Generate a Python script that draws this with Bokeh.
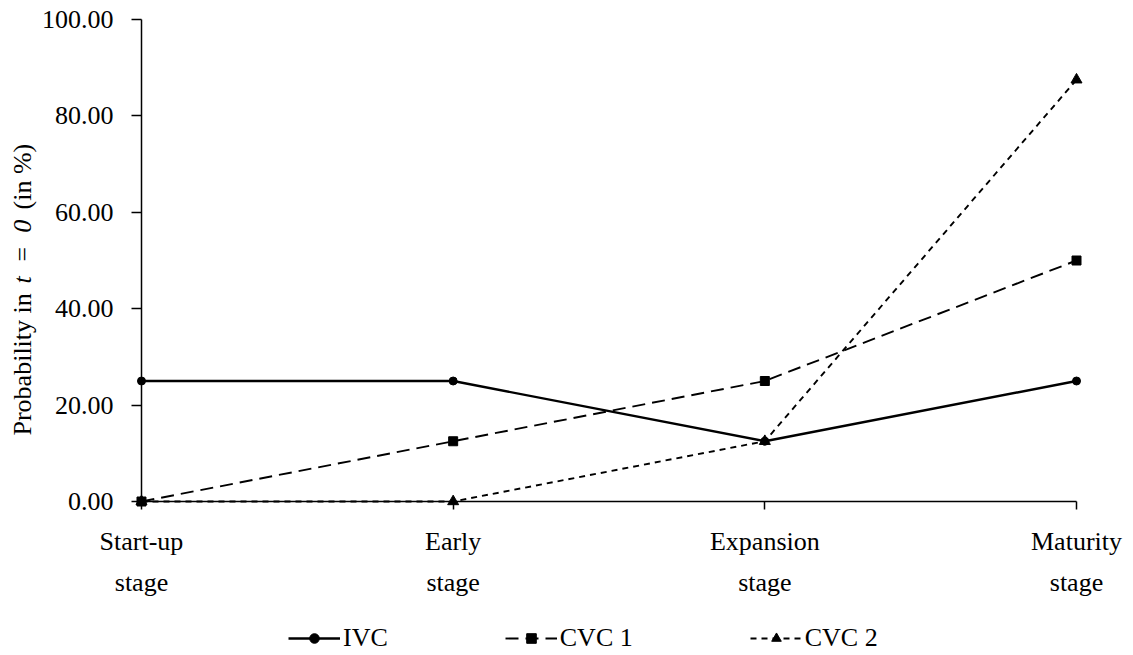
import math
from bokeh.plotting import figure
from bokeh.models import FixedTicker, PrintfTickFormatter, Legend, LegendItem, Range1d, LinearAxis, Label
from bokeh.embed import file_html
from bokeh.resources import INLINE

categories = ["Start-up\nstage", "Early\nstage", "Expansion\nstage", "Maturity\nstage"]
ivc = [25.0, 25.0, 12.5, 25.0]
cvc1 = [0.0, 12.5, 25.0, 50.0]
cvc2 = [0.0, 0.0, 12.5, 87.5]
y_ticks = [0, 20, 40, 60, 80, 100]
y_label_parts = [("Probability in", "normal"), ("t\u2002=\u20020", "italic"), ("(in %)", "normal")]

xs = list(range(len(categories)))
FONT = "Liberation Serif"
FS = "26px"
W, H = 1125, 655

p = figure(width=W, height=H, output_backend="svg", toolbar_location=None,
           x_axis_location=None, y_axis_location=None,
           x_range=Range1d(-0.4524, 3.1572), y_range=Range1d(-31.95, 103.942),
           min_border=0)
p.outline_line_color = None
p.xgrid.visible = False
p.ygrid.visible = False

r1l = p.line(xs, ivc, line_color="black", line_width=2.4)
r1m = p.scatter(xs, ivc, marker="circle", size=8, color="black")
r2l = p.line(xs, cvc1, line_color="black", line_width=1.9, line_dash="13 7")
r2m = p.scatter(xs, cvc1, marker="square", size=9, color="black")
r3l = p.line(xs, cvc2, line_color="black", line_width=1.9, line_dash="6 5")
r3m = p.scatter(xs, cvc2, marker="triangle", size=11, color="black")

# axes fixed at the data origin
fx = LinearAxis(ticker=FixedTicker(ticks=xs), fixed_location=0, bounds=(0, 3))
fy = LinearAxis(ticker=FixedTicker(ticks=y_ticks), fixed_location=0, bounds=(0, 100))
for ax in (fx, fy):
    ax.axis_line_color = "black"
    ax.axis_line_width = 1.5
    ax.major_tick_line_color = "black"
    ax.major_tick_line_width = 1.5
    ax.minor_tick_line_color = None
    ax.major_tick_in = 0
    ax.major_label_text_font = FONT
    ax.major_label_text_font_size = FS
    ax.major_label_text_color = "black"
fx.major_tick_out = 8
fx.major_label_overrides = {i: c for i, c in enumerate(categories)}
fx.major_label_standoff = 17
fx.major_label_text_line_height = 1.42
fy.major_tick_out = 10
fy.formatter = PrintfTickFormatter(format="%.2f")
fy.major_label_standoff = 18
p.add_layout(fx, "below")
p.add_layout(fy, "left")

# y-axis title with italic "t = 0"
label_starts = [220, 372, 446]
for (txt, style), y0 in zip(y_label_parts, label_starts):
    p.add_layout(Label(x=22, y=y0, x_units="screen", y_units="screen", text=txt,
                       angle=math.pi / 2, text_align="left", text_baseline="middle",
                       text_font=FONT, text_font_size=FS, text_font_style=style,
                       text_color="black"))

legend = Legend(items=[
    LegendItem(label="IVC", renderers=[r1l, r1m]),
    LegendItem(label="CVC 1", renderers=[r2l, r2m]),
    LegendItem(label="CVC 2", renderers=[r3l, r3m]),
], orientation="horizontal", location=(288, 2))
legend.glyph_width = 52
legend.glyph_height = 24
legend.label_height = 24
legend.label_standoff = 3
legend.spacing = 117
legend.padding = 0
legend.margin = 0
legend.label_text_font = FONT
legend.label_text_font_size = FS
legend.label_text_color = "black"
legend.border_line_color = None
legend.background_fill_alpha = 0
p.add_layout(legend)

open("out.html", "w").write(file_html(p, INLINE))
